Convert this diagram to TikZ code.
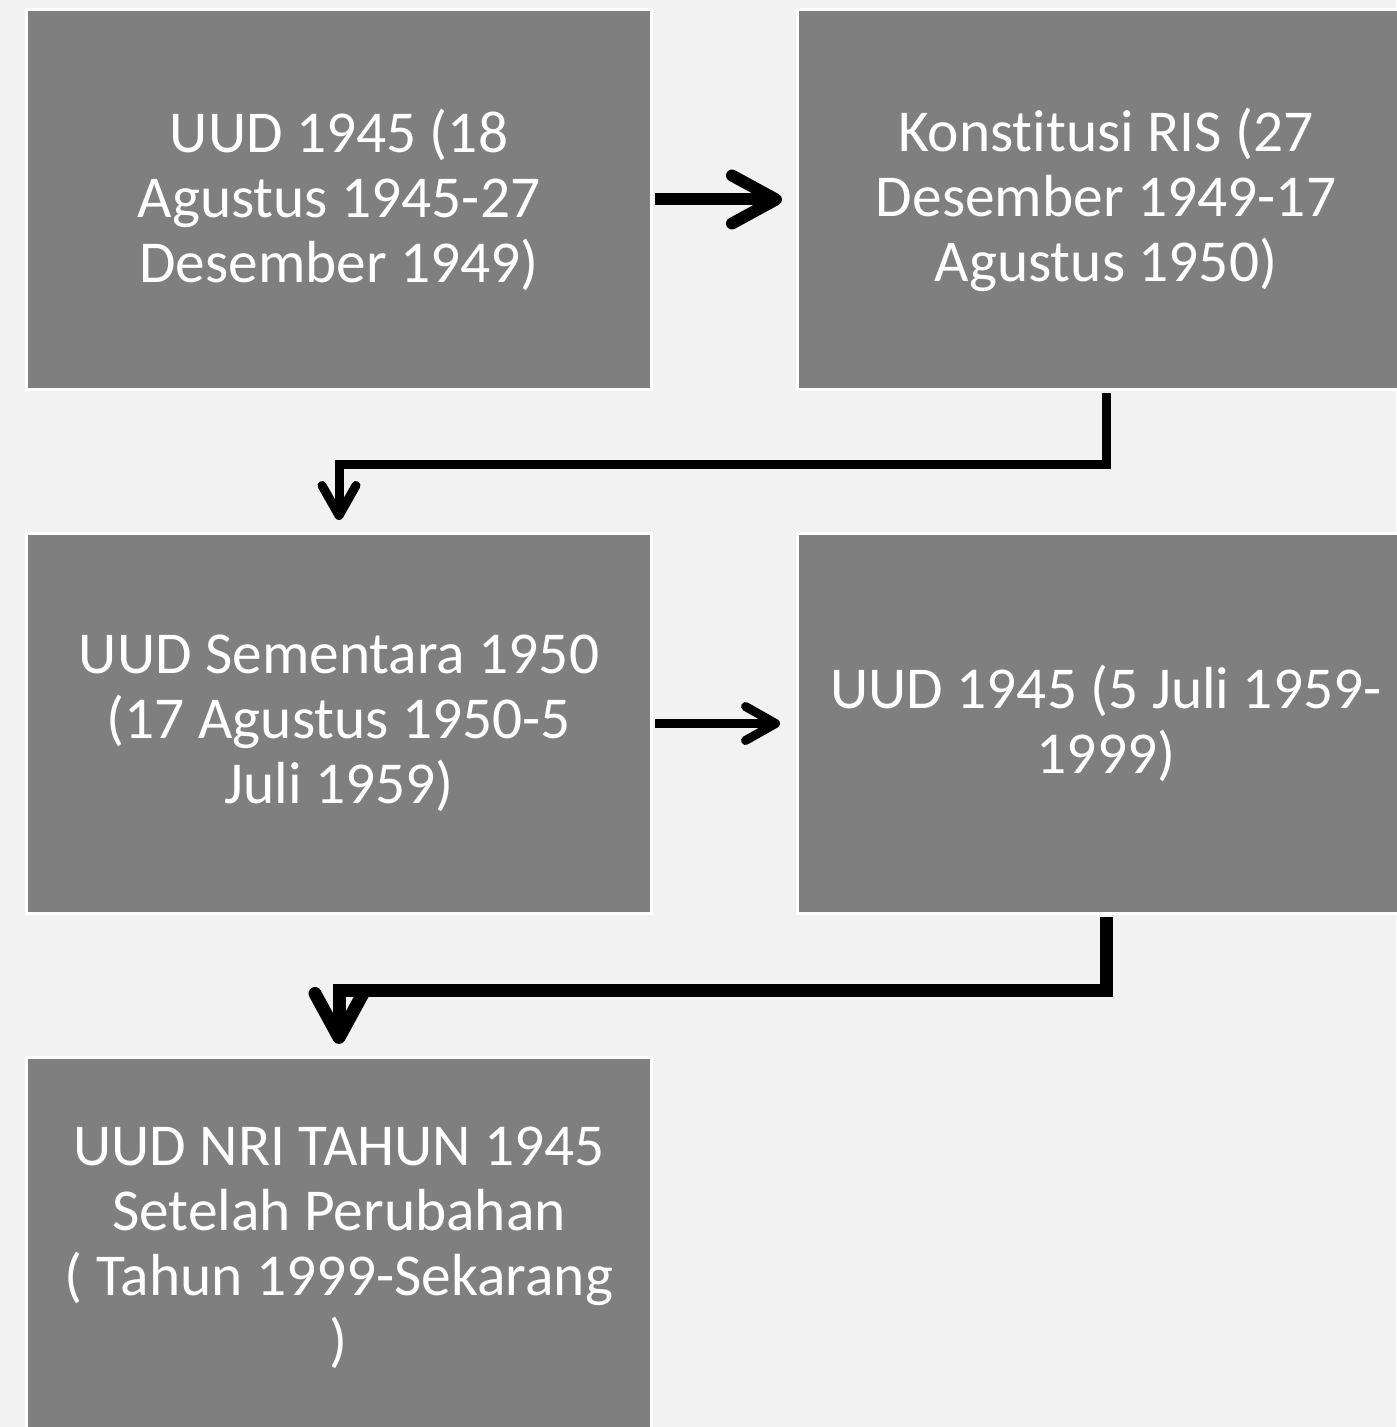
\documentclass[tikz,border=0pt]{standalone}
\usepackage{fontspec}
\setmainfont{Carlito}[Ligatures=NoCommon]
\usetikzlibrary{arrows.meta}
\definecolor{pagebg}{HTML}{F2F2F2}
\definecolor{boxgray}{HTML}{7F7F7F}

\begin{document}
\begin{tikzpicture}[x=0.5pt, y=-0.5pt,
	box/.style={draw=white, line width=1.5pt, fill=boxgray, text=white, align=center,
		minimum width=312.5pt, minimum height=190pt, inner sep=0pt,
		font={\fontsize{29.7}{32.5}\selectfont}},
	rbox/.style={box, minimum width=308.5pt},
	bigarrow/.style={line width=6pt, -{Straight Barb[round, length=22pt, width=24pt]}},
	smallarrow/.style={line width=4.5pt, -{Straight Barb[round, length=15pt, width=17pt]}}]
	\fill[pagebg] (0,0) rectangle (1396,1427);
	\useasboundingbox (0,0) rectangle (1396,1427);
	\node[box] (uud45) at (339,199.5) {UUD 1945 (18\\Agustus 1945-27\\Desember 1949)};
	\node[rbox] (ris) at (1106,199.5) {Konstitusi RIS (27\\Desember 1949-17\\Agustus 1950)};
	\node[box] (uuds50) at (339,723.5) {UUD Sementara 1950\\(17 Agustus 1950-5\\Juli 1959)};
	\node[rbox] (uud59) at (1106,723.5) {UUD 1945 (5 Juli 1959-\\1999)};
	\node[box] (uudnri) at (339,1247.5) {UUD NRI TAHUN 1945\\Setelah Perubahan\\( Tahun 1999-Sekarang\\)};
	\draw[bigarrow, shorten <=1pt, shorten >=7pt] (uud45.east) -- (ris.west);
	\draw[smallarrow, shorten <=1pt, shorten >=8pt] (uuds50.east) -- (uud59.west);
	\draw[smallarrow, shorten <=1pt, shorten >=6pt] (ris.south) -- ++(0,73) -| (uuds50.north);
	\draw[bigarrow, line width=6.5pt, shorten <=1pt, shorten >=6pt] (uud59.south) -- ++(0,75) -| (uudnri.north);
\end{tikzpicture}
\end{document}
